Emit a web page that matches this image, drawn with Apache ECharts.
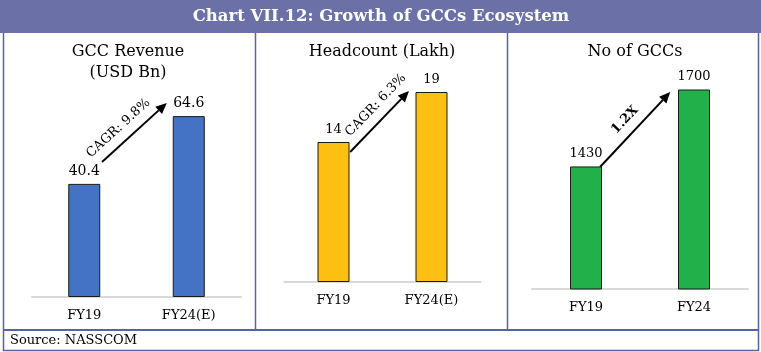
<!DOCTYPE html>
<html>
<head>
<meta charset="utf-8">
<script src="https://cdn.jsdelivr.net/npm/echarts@6/dist/echarts.min.js"></script>
<style>
  html, body { margin: 0; padding: 0; background: #fff; }
  #chart { width: 761px; height: 352px; }
</style>
</head>
<body>
<div id="chart"></div>
<script>
const chartTitle = 'Chart VII.12: Growth of GCCs Ecosystem';
const sourceText = 'Source: NASSCOM';
const panelTitles = ['GCC Revenue\n(USD Bn)', 'Headcount (Lakh)', 'No of GCCs'];
const revenueCats = ['FY19', 'FY24(E)'];
const headcountCats = ['FY19', 'FY24(E)'];
const gccCats = ['FY19', 'FY24'];
const revenue = [40.4, 64.6];
const headcount = [14, 19];
const gccCount = [1430, 1700];
const growthLabels = ['CAGR: 9.8%', 'CAGR: 6.3%', '1.2X'];
// arrow ends: [category position (0 = FY19, 1 = FY24), value]
const arrowFrom = [[0.17, 48.2], [0.17, 13], [0.13, 1428]];
const arrowTo = [[0.79, 69.3], [0.77, 19.1], [0.78, 1691]];
const labelShift = [-9, 9, 0];

const FONT = 'DejaVu Serif';
const BORDER = '#5563a3';
const cats = [revenueCats, headcountCats, gccCats];
const values = [revenue, headcount, gccCount];
const colors = ['#4472c4', '#fcbf12', '#22b04b'];

const chart = echarts.init(document.getElementById('chart'));

const grids = [
  { left: 32, top: 101, width: 209, height: 196 },
  { left: 284.5, top: 82, width: 196, height: 200 },
  { left: 532, top: 61, width: 216, height: 228 }
];
const yRanges = [[0, 70], [0, 20], [1000, 1800]];
const labelSizes = [14, 13, 13];

chart.setOption({
  animation: false,
  grid: grids,
  xAxis: cats.map((c, i) => ({
    type: 'category', gridIndex: i, data: c,
    axisLine: { lineStyle: { color: '#d9d9d9', width: 2 } },
    axisTick: { show: false },
    axisLabel: { color: '#000', fontFamily: FONT, fontSize: 13, margin: 12 }
  })),
  yAxis: yRanges.map((r, i) => ({
    type: 'value', gridIndex: i, min: r[0], max: r[1], show: false, splitLine: { show: false }
  })),
  series: values.map((v, i) => ({
    type: 'bar', xAxisIndex: i, yAxisIndex: i, data: v, barWidth: 32,
    itemStyle: { color: colors[i], borderColor: '#1a1a1a', borderWidth: 1 },
    label: { show: true, position: 'top', distance: 6, color: '#000', fontFamily: FONT, fontSize: labelSizes[i] }
  }))
});

// frame, titles and arrows
const g = [];
g.push({ type: 'rect', shape: { x: 0, y: 0, width: 761, height: 33 }, style: { fill: '#6b70a6' } });
g.push({ type: 'text', x: 381, y: 17, style: { text: chartTitle, fill: '#fff', font: 'bold 16.5px "DejaVu Serif"', textAlign: 'center', textVerticalAlign: 'middle' } });
[3.5, 758.5].forEach(x => {
  g.push({ type: 'line', shape: { x1: x, y1: 33, x2: x, y2: 351 }, style: { stroke: BORDER, lineWidth: 1.5 } });
});
[255.5, 507.5].forEach(x => {
  g.push({ type: 'line', shape: { x1: x, y1: 33, x2: x, y2: 330 }, style: { stroke: BORDER, lineWidth: 1.5 } });
});
g.push({ type: 'line', shape: { x1: 3, y1: 330, x2: 759, y2: 330 }, style: { stroke: BORDER, lineWidth: 2 } });
g.push({ type: 'line', shape: { x1: 3, y1: 350.5, x2: 759, y2: 350.5 }, style: { stroke: BORDER, lineWidth: 1.5 } });
g.push({ type: 'text', x: 10, y: 341, style: { text: sourceText, fill: '#000', font: '13px "DejaVu Serif"', textVerticalAlign: 'middle' } });

const titleX = [128, 382, 635];
panelTitles.forEach((t, i) => {
  g.push({ type: 'text', x: titleX[i], y: i === 0 ? 62 : 52,
    style: { text: t, fill: '#000', font: '16px "DejaVu Serif"', lineHeight: 21, textAlign: 'center', textVerticalAlign: 'middle' } });
});

function toPixel(i, pos) {
  const a = chart.convertToPixel({ gridIndex: i }, [cats[i][0], pos[1]]);
  const b = chart.convertToPixel({ gridIndex: i }, [cats[i][1], pos[1]]);
  return [a[0] + (b[0] - a[0]) * pos[0], a[1]];
}

for (let i = 0; i < 3; i++) {
  const p0 = toPixel(i, arrowFrom[i]);
  const p1 = toPixel(i, arrowTo[i]);
  const dx = p1[0] - p0[0], dy = p1[1] - p0[1];
  const len = Math.sqrt(dx * dx + dy * dy);
  const ux = dx / len, uy = dy / len;
  const nx = uy, ny = -ux; // perpendicular, pointing up-left
  const head = 11, hw = 5;
  const bx = p1[0] - ux * head, by = p1[1] - uy * head;
  g.push({ type: 'line', shape: { x1: p0[0], y1: p0[1], x2: bx, y2: by }, style: { stroke: '#000', lineWidth: 2 } });
  g.push({ type: 'polygon', shape: { points: [[p1[0], p1[1]], [bx + nx * hw, by + ny * hw], [bx - nx * hw, by - ny * hw]] }, style: { fill: '#000' } });
  const mx = (p0[0] + p1[0]) / 2 + ux * labelShift[i] + nx * 14;
  const my = (p0[1] + p1[1]) / 2 + uy * labelShift[i] + ny * 14;
  g.push({ type: 'text', x: mx, y: my, rotation: Math.atan2(-dy, dx),
    style: { text: growthLabels[i], fill: '#000', font: (i === 2 ? 'bold ' : '') + '13px "DejaVu Serif"', textAlign: 'center', textVerticalAlign: 'middle' } });
}

chart.setOption({ graphic: g });
</script>
</body>
</html>
